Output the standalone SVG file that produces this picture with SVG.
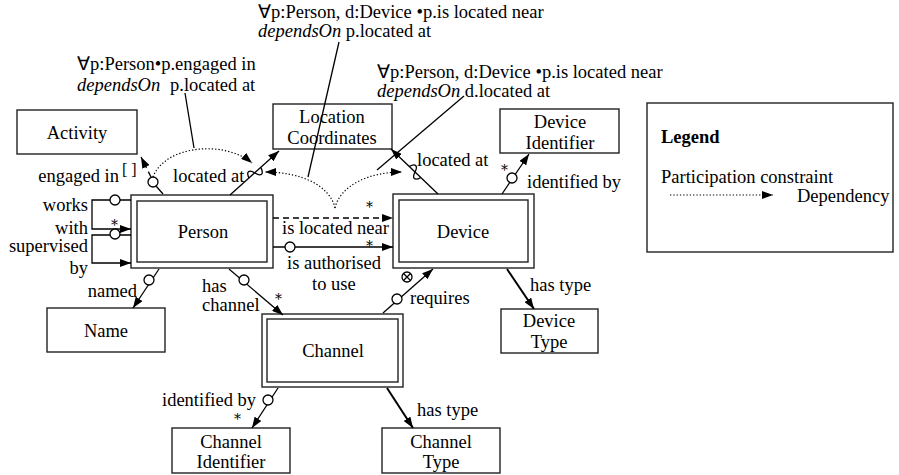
<svg xmlns="http://www.w3.org/2000/svg" width="899" height="475" viewBox="0 0 899 475">
<style>
text{font-family:"Liberation Serif","Times New Roman",serif;font-size:18.5px;fill:#000}
.c{text-anchor:middle}
.e{text-anchor:end}
.br{font-size:16px}
.st{font-size:14px;font-family:"DejaVu Serif",serif;fill:#000}
.box{fill:#fff;stroke:#222;stroke-width:1.4}
.ln{fill:none;stroke:#000;stroke-width:1.3}
.thk{fill:none;stroke:#000;stroke-width:2}
.dot{fill:none;stroke:#000;stroke-width:1.2;stroke-dasharray:1.3 2}
.dash{fill:none;stroke:#000;stroke-width:1.3;stroke-dasharray:6 4}
.circ{fill:#fff;stroke:#000;stroke-width:1.3}
</style>
<defs>
<marker id="arr" viewBox="0 0 11 8" refX="11" refY="4" markerWidth="11" markerHeight="8" orient="auto" markerUnits="userSpaceOnUse"><path d="M0,0 L11,4 L0,8 z" fill="#000"/></marker>
</defs>

<g id="Activity"><rect class="box" x="17" y="110" width="120" height="44"/><text class="c" x="77" y="139">Activity</text></g>
<g id="LocationCoordinates"><rect class="box" x="273" y="104" width="119" height="45"/><text class="c" x="332" y="123">Location</text><text class="c" x="332" y="144">Coordinates</text></g>
<g id="DeviceIdentifier"><rect class="box" x="500" y="109" width="119" height="44"/><text class="c" x="560" y="128">Device</text><text class="c" x="560" y="149">Identifier</text></g>
<g id="Person"><rect class="box" x="131" y="195" width="142" height="73"/><rect class="box" x="137" y="201" width="130" height="61"/><text class="c" x="203" y="238">Person</text></g>
<g id="Device"><rect class="box" x="393" y="194" width="141" height="74"/><rect class="box" x="399" y="200" width="129" height="62"/><text class="c" x="463" y="238">Device</text></g>
<g id="Name"><rect class="box" x="47" y="308" width="118" height="44"/><text class="c" x="106" y="337">Name</text></g>
<g id="Channel"><rect class="box" x="262" y="314" width="141" height="73"/><rect class="box" x="267" y="319" width="131" height="63"/><text class="c" x="333" y="357">Channel</text></g>
<g id="DeviceType"><rect class="box" x="501" y="309" width="97" height="44"/><text class="c" x="549" y="327">Device</text><text class="c" x="549" y="348">Type</text></g>
<g id="ChannelIdentifier"><rect class="box" x="172" y="428" width="118" height="45"/><text class="c" x="231" y="448">Channel</text><text class="c" x="231" y="468">Identifier</text></g>
<g id="ChannelType"><rect class="box" x="382" y="428" width="118" height="45"/><text class="c" x="441" y="448">Channel</text><text class="c" x="441" y="468">Type</text></g>

<g id="Legend"><rect class="box" x="647" y="103" width="246" height="149"/>
<text x="661" y="143" font-weight="bold">Legend</text>
<text x="661" y="183">Participation constraint</text>
<line class="dot" x1="670" y1="195" x2="773" y2="195" marker-end="url(#arr)"/>
<text x="797" y="202">Dependency</text></g>

<g id="annotations">
<text x="258" y="18">∀p:Person, d:Device •p.is located near</text>
<text x="258" y="37"><tspan font-style="italic">dependsOn</tspan> p.located at</text>
<text x="77" y="70">∀p:Person•p.engaged in</text>
<text x="77" y="91"><tspan font-style="italic">dependsOn</tspan><tspan x="170">p.located at</tspan></text>
<text x="377" y="78">∀p:Person, d:Device •p.is located near</text>
<text x="377" y="97"><tspan font-style="italic">dependsOn</tspan> d.located at</text>
</g>

<g id="connectors">
<line class="ln" x1="185" y1="93" x2="194" y2="148"/>
<line class="ln" x1="339" y1="42" x2="308" y2="177"/>
<line class="ln" x1="464" y1="96" x2="377" y2="170"/>

<line class="ln" x1="163" y1="194" x2="156" y2="186"/>
<line class="dash" x1="151" y1="177" x2="141" y2="157" marker-end="url(#arr)"/>
<circle class="circ" cx="153" cy="182" r="5"/>

<line class="ln" x1="230" y1="195" x2="279" y2="151" marker-end="url(#arr)"/>
<path class="ln" d="M-8,0 C-6,-7 -2,-7 0,0 C2,7 6,7 8,0" transform="translate(255,173) rotate(-42)"/>
<line class="ln" x1="438" y1="194" x2="391" y2="149" marker-end="url(#arr)"/>
<path class="ln" d="M-8,0 C-6,-7 -2,-7 0,0 C2,7 6,7 8,0" transform="translate(415,172) rotate(43)"/>

<path class="dot" d="M153,177 C165,145 225,140 252,163" marker-end="url(#arr)"/>
<path class="dot" d="M335,208 C330,186 302,172 265,172" marker-end="url(#arr)"/>
<path class="dot" d="M335,208 C340,186 368,172 402,172" marker-end="url(#arr)"/>

<line class="ln" x1="502" y1="194" x2="529" y2="154" marker-end="url(#arr)"/>
<circle class="circ" cx="512" cy="178" r="5"/>

<polyline class="ln" points="131,200 92,200 92,229 131,229" marker-end="url(#arr)"/>
<circle class="circ" cx="115" cy="200" r="5"/>
<polyline class="ln" points="131,235 92,235 92,263 131,263" marker-end="url(#arr)"/>
<circle class="circ" cx="115" cy="234" r="5"/>

<line class="ln" x1="159" y1="269" x2="133" y2="308" marker-end="url(#arr)"/>
<circle class="circ" cx="149" cy="280" r="5"/>

<line class="ln" x1="229" y1="269" x2="283" y2="315" marker-end="url(#arr)"/>
<circle class="circ" cx="244" cy="280" r="5"/>

<line class="dash" x1="273" y1="218" x2="393" y2="218" marker-end="url(#arr)"/>
<line class="ln" x1="273" y1="247" x2="393" y2="247" marker-end="url(#arr)"/>
<circle class="circ" cx="290" cy="247" r="5"/>

<line class="ln" x1="383" y1="313" x2="433" y2="269" marker-end="url(#arr)"/>
<circle class="circ" cx="397" cy="299" r="5"/>
<circle class="circ" cx="407" cy="277" r="5"/>
<path class="ln" d="M403.5,273.5 L410.5,280.5 M410.5,273.5 L403.5,280.5" stroke-width="1"/>

<line class="thk" x1="507" y1="269" x2="534" y2="309" marker-end="url(#arr)"/>

<line class="ln" x1="278" y1="388" x2="252" y2="428" marker-end="url(#arr)"/>
<circle class="circ" cx="268" cy="400" r="5"/>
<line class="thk" x1="387" y1="388" x2="413" y2="428" marker-end="url(#arr)"/>
</g>

<g id="labels">
<text class="e" x="119" y="182">engaged in</text>
<text class="br" x="122" y="175">[ ]</text>
<text x="173" y="182">located at</text>
<text x="417" y="166">located at</text>
<text class="st" x="501" y="175">*</text>
<text x="527" y="188">identified by</text>
<text class="e" x="88" y="211">works</text>
<text class="st" x="111" y="230">*</text>
<text class="e" x="88" y="234">with</text>
<text class="e" x="88" y="252">supervised</text>
<text class="e" x="88" y="274">by</text>
<text class="e" x="137" y="297">named</text>
<text x="202" y="292">has</text>
<text x="202" y="311">channel</text>
<text class="st" x="275" y="304">*</text>
<text class="st" x="366" y="212">*</text>
<text x="282" y="234">is located near</text>
<text class="st" x="366" y="251">*</text>
<text x="287" y="269">is authorised</text>
<text x="312" y="290">to use</text>
<text x="410" y="304">requires</text>
<text x="530" y="291">has type</text>
<text class="st" x="234" y="424">*</text>
<text x="162" y="406">identified by</text>
<text x="417" y="416">has type</text>
</g>
</svg>
